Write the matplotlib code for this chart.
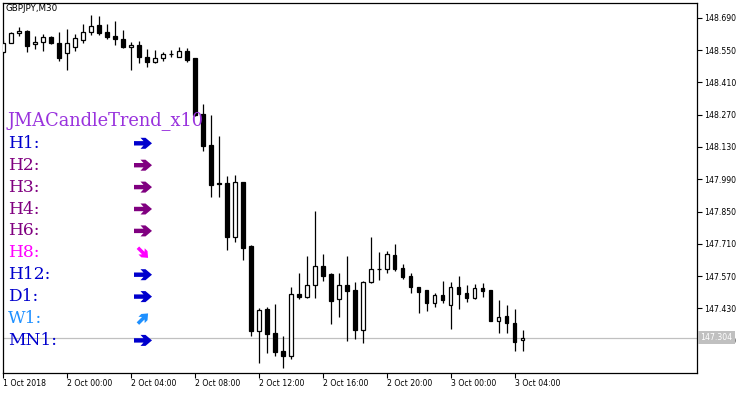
import matplotlib
matplotlib.use("Agg")
import matplotlib.pyplot as plt
from matplotlib.patches import Rectangle, Polygon
from matplotlib.transforms import blended_transform_factory, Affine2D

# GBPJPY M30 candles, first bar = 1 Oct 20:00
opens = [148.543, 148.582, 148.623, 148.633, 148.576, 148.584, 148.608, 148.582, 148.539, 148.565,
         148.594, 148.630, 148.659, 148.627, 148.611, 148.597, 148.562, 148.572, 148.519, 148.500,
         148.514, 148.531, 148.521, 148.546, 148.514, 148.272, 148.138, 147.973, 147.975, 147.741,
         147.978, 147.701, 147.333, 147.427, 147.322, 147.245, 147.225, 147.491, 147.481, 147.530,
         147.614, 147.579, 147.470, 147.530, 147.510, 147.337, 147.543, 147.600, 147.600, 147.662,
         147.604, 147.570, 147.522, 147.510, 147.452, 147.488, 147.444, 147.522, 147.498, 147.474,
         147.517, 147.510, 147.377, 147.397, 147.365, 147.293]
highs = [148.594, 148.630, 148.649, 148.635, 148.611, 148.618, 148.611, 148.630, 148.640, 148.618,
         148.663, 148.702, 148.699, 148.663, 148.677, 148.637, 148.586, 148.591, 148.553, 148.550,
         148.543, 148.550, 148.562, 148.558, 148.516, 148.316, 148.268, 148.177, 148.004, 148.008,
         147.980, 147.703, 147.433, 147.437, 147.449, 147.310, 147.522, 147.582, 147.657, 147.852,
         147.666, 147.582, 147.582, 147.657, 147.546, 147.550, 147.738, 147.676, 147.679, 147.709,
         147.623, 147.582, 147.524, 147.512, 147.496, 147.550, 147.546, 147.572, 147.532, 147.536,
         147.542, 147.512, 147.466, 147.445, 147.427, 147.336]
lows = [148.537, 148.579, 148.611, 148.543, 148.553, 148.547, 148.576, 148.504, 148.464, 148.547,
        148.579, 148.615, 148.615, 148.597, 148.572, 148.558, 148.464, 148.493, 148.475, 148.495,
        148.504, 148.519, 148.519, 148.500, 148.266, 148.114, 147.913, 147.914, 147.683, 147.719,
        147.640, 147.310, 147.195, 147.235, 147.224, 147.173, 147.211, 147.470, 147.474, 147.476,
        147.550, 147.362, 147.394, 147.290, 147.297, 147.281, 147.541, 147.553, 147.582, 147.594,
        147.556, 147.498, 147.411, 147.420, 147.437, 147.455, 147.341, 147.427, 147.459, 147.469,
        147.478, 147.375, 147.325, 147.322, 147.247, 147.247]
closes = [148.582, 148.623, 148.633, 148.569, 148.586, 148.608, 148.579, 148.514, 148.582, 148.601,
          148.630, 148.656, 148.625, 148.608, 148.597, 148.562, 148.572, 148.519, 148.500, 148.514,
          148.533, 148.535, 148.546, 148.507, 148.268, 148.135, 147.965, 147.970, 147.741, 147.978,
          147.693, 147.332, 147.423, 147.319, 147.242, 147.225, 147.491, 147.481, 147.530, 147.614,
          147.572, 147.463, 147.530, 147.507, 147.337, 147.543, 147.600, 147.600, 147.665, 147.601,
          147.568, 147.522, 147.502, 147.452, 147.487, 147.467, 147.522, 147.491, 147.474, 147.517,
          147.507, 147.377, 147.394, 147.365, 147.286, 147.304]

time_ticks = [0, 8, 16, 24, 32, 40, 48, 56, 64]
time_labels = ['1 Oct 2018', '2 Oct 00:00', '2 Oct 04:00', '2 Oct 08:00', '2 Oct 12:00',
               '2 Oct 16:00', '2 Oct 20:00', '3 Oct 00:00', '3 Oct 04:00']
price_ticks = [148.69, 148.55, 148.41, 148.27, 148.13, 147.99, 147.85, 147.71, 147.57, 147.43, 147.29]
last_price = 147.304

title = 'JMACandleTrend_x10'
tf_names = ['H1:', 'H2:', 'H3:', 'H4:', 'H6:', 'H8:', 'H12:', 'D1:', 'W1:', 'MN1:']
tf_colors = ['#0000CD', '#800080', '#800080', '#800080', '#800080', '#FF00FF',
             '#0000CD', '#0000CD', '#1E90FF', '#0000CD']
# arrow direction in degrees (0 = right, -45 = down-right, 45 = up-right)
tf_dirs = [0, 0, 0, 0, 0, -45, 0, 0, 45, 0]

W, H = 750, 394
fig = plt.figure(figsize=(W / 100, H / 100), dpi=100)
ax = fig.add_axes([3 / W, (H - 372.5) / H, 694 / W, 370 / H])

# candles
bw = 0.42
for i in range(len(opens)):
    o, h, l, c = opens[i], highs[i], lows[i], closes[i]
    ax.plot([i, i], [l, h], color='black', lw=0.9, zorder=2, solid_capstyle='butt')
    lo, hi = min(o, c), max(o, c)
    face = 'white' if c >= o else 'black'
    ax.add_patch(Rectangle((i - bw / 2, lo), bw, hi - lo, facecolor=face,
                           edgecolor='black', lw=0.9, zorder=3))

ax.axhline(last_price, color='#C0C0C0', lw=0.9, zorder=1)

ax.set_xlim(0.0375, 86.79)
ax.set_ylim(147.1525, 148.7563)

ax.yaxis.tick_right()
ax.set_yticks(price_ticks)
ax.set_yticklabels(['%.3f' % p for p in price_ticks])
ax.set_xticks(time_ticks)
ax.set_xticklabels(time_labels, ha='left')
ax.tick_params(axis='both', labelsize=5.6, length=3.5, width=0.8, direction='out', pad=1.5,
               colors='black')
ax.tick_params(axis='x', pad=1)
for s in ax.spines.values():
    s.set_linewidth(0.9)
    s.set_color('black')

tr = blended_transform_factory(ax.transAxes, ax.transData)
ax.text(1.0 + 3.5 / 694, last_price, '%.3f' % last_price, transform=tr, ha='left', va='center',
        fontsize=5.6, color='white', zorder=10, clip_on=False,
        bbox=dict(boxstyle='square,pad=0.3', facecolor='#C0C0C0', edgecolor='none'))

fig.text(6 / W, 1 - 8.5 / H, 'GBPJPY,M30', fontsize=6.3, ha='left', va='center', color='black')

# indicator panel
fig.text(8 / W, 1 - 120.7 / H, title, fontsize=12.8, family='DejaVu Serif', color='#9932DD',
         ha='left', va='center')

# thick arrow shape (pixels, pointing right)
arrow_shape = [(-9, -2.2), (0.5, -2.2), (-2.5, -5.5), (2.5, -5.5), (9, 0),
               (2.5, 5.5), (-2.5, 5.5), (0.5, 2.2), (-9, 2.2)]
for j, name in enumerate(tf_names):
    ypx = 143.3 + 21.9 * j
    fig.text(8 / W, 1 - ypx / H, name, fontsize=12.3, family='DejaVu Serif', color=tf_colors[j],
             ha='left', va='center')
    sc = 1.0 if tf_dirs[j] == 0 else 0.8
    t = (Affine2D().scale(sc).rotate_deg(tf_dirs[j]).translate(143, H - ypx).scale(1 / 100)
         + fig.dpi_scale_trans)
    fig.add_artist(Polygon(arrow_shape, closed=True, facecolor=tf_colors[j], edgecolor='none',
                           transform=t))

fig.savefig('out.png', dpi=100)
